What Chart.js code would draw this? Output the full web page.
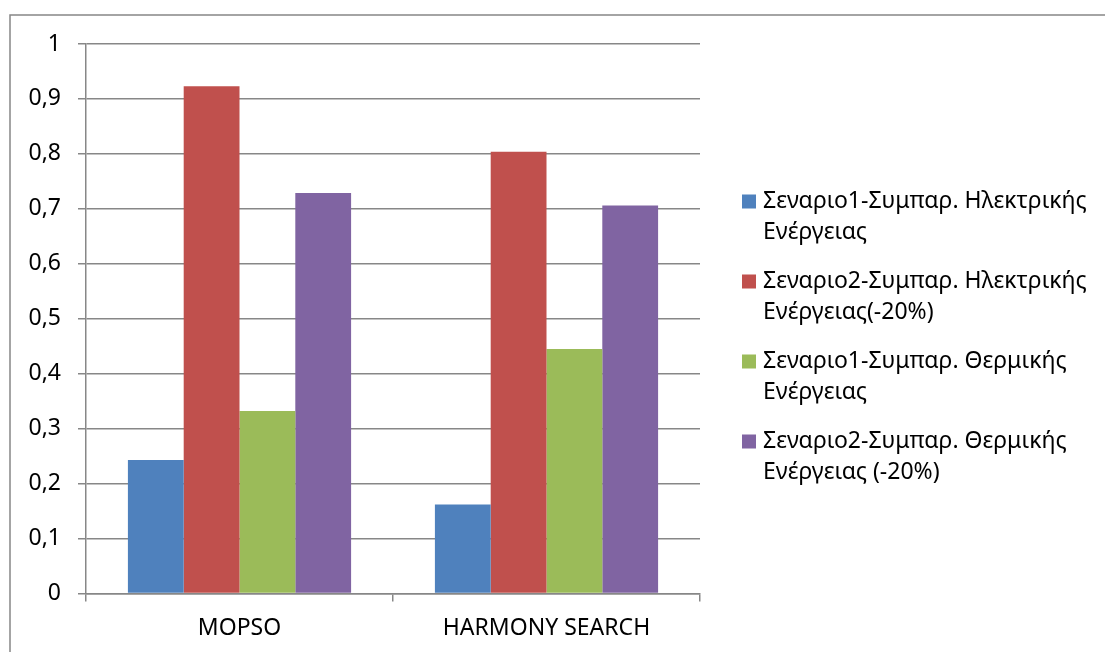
<!DOCTYPE html>
<html>
<head>
<meta charset="utf-8">
<script src="https://cdn.jsdelivr.net/npm/chart.js@4.4.1/dist/chart.umd.min.js"></script>
<style>
  html, body { margin: 0; padding: 0; background: #ffffff; }
  #wrap { width: 1105px; height: 652px; position: relative; overflow: hidden; }
  canvas { display: block; }
</style>
</head>
<body>
<div id="wrap"><canvas id="chart" width="1105" height="652"></canvas></div>
<script>
// Categories (algorithms) and the four scenario series
const categories = ['MOPSO', 'HARMONY SEARCH'];

const scenario1Electric = [0.243, 0.162];
const scenario2Electric = [0.923, 0.804];
const scenario1Thermal  = [0.332, 0.445];
const scenario2Thermal  = [0.729, 0.706];

const seriesLabels = [
  'Σεναριο1-Συμπαρ. Ηλεκτρικής Ενέργειας',
  'Σεναριο2-Συμπαρ. Ηλεκτρικής Ενέργειας(-20%)',
  'Σεναριο1-Συμπαρ. Θερμικής Ενέργειας',
  'Σεναριο2-Συμπαρ. Θερμικής Ενέργειας (-20%)'
];
// Legend entries wrapped onto two lines
const legendLines = [
  ['Σεναριο1-Συμπαρ. Ηλεκτρικής', 'Ενέργειας'],
  ['Σεναριο2-Συμπαρ. Ηλεκτρικής', 'Ενέργειας(-20%)'],
  ['Σεναριο1-Συμπαρ. Θερμικής', 'Ενέργειας'],
  ['Σεναριο2-Συμπαρ. Θερμικής', 'Ενέργειας (-20%)']
];

const yTickLabels = ['0', '0,1', '0,2', '0,3', '0,4', '0,5', '0,6', '0,7', '0,8', '0,9', '1'];

const colors = ['#4F81BD', '#C0504D', '#9BBB59', '#8064A2'];
const seriesValues = [scenario1Electric, scenario2Electric, scenario1Thermal, scenario2Thermal];

const FONT = 'Noto Sans';
const FONT_SIZE = 23;
const GRID = '#878787';

// Outer frame around the chart object
const framePlugin = {
  id: 'frame',
  beforeDraw(chart) {
    const ctx = chart.ctx;
    ctx.save();
    ctx.fillStyle = '#ffffff';
    ctx.fillRect(0, 0, chart.width, chart.height);
    ctx.strokeStyle = GRID;
    ctx.lineWidth = 1.5;
    ctx.strokeRect(10, 15, chart.width + 20, chart.height + 20);
    ctx.restore();
  }
};

// Right-hand legend with wrapped entries
const sideLegend = {
  id: 'sideLegend',
  afterDraw(chart) {
    const ctx = chart.ctx;
    ctx.save();
    ctx.font = FONT_SIZE + 'px "' + FONT + '"';
    ctx.textBaseline = 'middle';
    ctx.textAlign = 'left';
    chart.data.datasets.forEach((ds, i) => {
      const y0 = 201.5 + i * 80;
      ctx.fillStyle = ds.backgroundColor;
      ctx.fillRect(742, y0 - 7, 14, 14);
      ctx.fillStyle = '#000000';
      legendLines[i].forEach((line, j) => {
        ctx.fillText(line, 763, y0 + j * 31);
      });
    });
    ctx.restore();
  }
};

new Chart(document.getElementById('chart'), {
  type: 'bar',
  data: {
    labels: categories,
    datasets: seriesValues.map((vals, i) => ({
      label: seriesLabels[i],
      data: vals,
      backgroundColor: colors[i],
      borderWidth: 0,
      barPercentage: 1.0,
      categoryPercentage: 0.727
    }))
  },
  options: {
    responsive: false,
    animation: false,
    devicePixelRatio: 1,
    layout: { padding: { left: 0, top: 44, right: 405, bottom: 0 } },
    plugins: {
      legend: { display: false },
      tooltip: { enabled: false }
    },
    scales: {
      x: {
        grid: {
          offset: true,
          drawOnChartArea: false,
          drawTicks: true,
          tickLength: 8,
          color: GRID,
          lineWidth: 1.5
        },
        border: { display: true, color: GRID, width: 1.5 },
        ticks: {
          color: '#000000',
          font: { family: FONT, size: FONT_SIZE },
          padding: 13,
          maxRotation: 0
        },
        afterFit(scale) { scale.height = 58.5; }
      },
      y: {
        min: 0,
        max: 1,
        grid: {
          color: GRID,
          lineWidth: 1.5,
          drawTicks: true,
          tickLength: 8
        },
        border: { display: true, color: GRID, width: 1.5 },
        ticks: {
          stepSize: 0.1,
          color: '#000000',
          font: { family: FONT, size: FONT_SIZE },
          padding: 17,
          callback: (v, i) => yTickLabels[i]
        },
        afterFit(scale) { scale.width = 86; }
      }
    }
  },
  plugins: [framePlugin, sideLegend]
});
</script>
</body>
</html>
